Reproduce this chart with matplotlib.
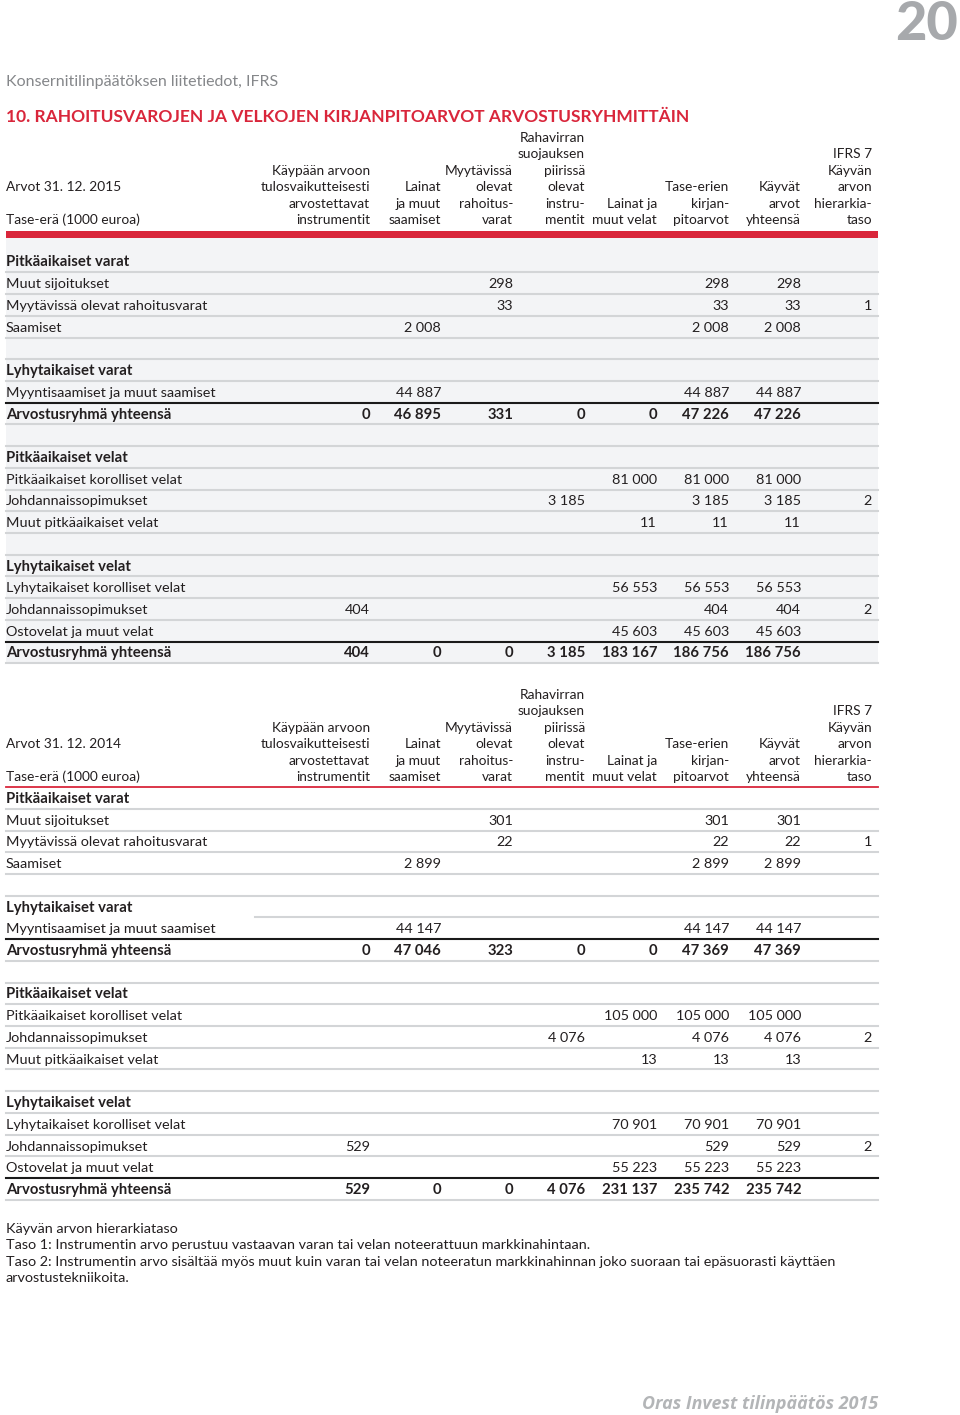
import matplotlib
matplotlib.use("Agg")
import matplotlib.pyplot as plt

W, H = 960, 1415

# column headers (one list per column, lines top to bottom)
col_headers = [
    ["Käypään arvoon", "tulosvaikutteisesti", "arvostettavat", "instrumentit"],
    ["Lainat", "ja muut", "saamiset"],
    ["Myytävissä", "olevat", "rahoitus-", "varat"],
    ["Rahavirran", "suojauksen", "piirissä", "olevat", "instru-", "mentit"],
    ["Lainat ja", "muut velat"],
    ["Tase-erien", "kirjan-", "pitoarvot"],
    ["Käyvät", "arvot", "yhteensä"],
    ["IFRS 7", "Käyvän", "arvon", "hierarkia-", "taso"],
]

row_labels = [
    "Pitkäaikaiset varat", "Muut sijoitukset", "Myytävissä olevat rahoitusvarat",
    "Saamiset", "", "Lyhytaikaiset varat", "Myyntisaamiset ja muut saamiset",
    "Arvostusryhmä yhteensä", "", "Pitkäaikaiset velat",
    "Pitkäaikaiset korolliset velat", "Johdannaissopimukset",
    "Muut pitkäaikaiset velat", "", "Lyhytaikaiset velat",
    "Lyhytaikaiset korolliset velat", "Johdannaissopimukset",
    "Ostovelat ja muut velat", "Arvostusryhmä yhteensä",
]
row_kinds = ["head", "item", "item", "item", "blank", "head", "item", "total",
             "blank", "head", "item", "item", "item", "blank", "head",
             "item", "item", "item", "total"]

E = ""
values_2015 = [
    [E] * 8,
    [E, E, "298", E, E, "298", "298", E],
    [E, E, "33", E, E, "33", "33", "1"],
    [E, "2 008", E, E, E, "2 008", "2 008", E],
    [E] * 8,
    [E] * 8,
    [E, "44 887", E, E, E, "44 887", "44 887", E],
    ["0", "46 895", "331", "0", "0", "47 226", "47 226", E],
    [E] * 8,
    [E] * 8,
    [E, E, E, E, "81 000", "81 000", "81 000", E],
    [E, E, E, "3 185", E, "3 185", "3 185", "2"],
    [E, E, E, E, "11", "11", "11", E],
    [E] * 8,
    [E] * 8,
    [E, E, E, E, "56 553", "56 553", "56 553", E],
    ["404", E, E, E, E, "404", "404", "2"],
    [E, E, E, E, "45 603", "45 603", "45 603", E],
    ["404", "0", "0", "3 185", "183 167", "186 756", "186 756", E],
]
values_2014 = [
    [E] * 8,
    [E, E, "301", E, E, "301", "301", E],
    [E, E, "22", E, E, "22", "22", "1"],
    [E, "2 899", E, E, E, "2 899", "2 899", E],
    [E] * 8,
    [E] * 8,
    [E, "44 147", E, E, E, "44 147", "44 147", E],
    ["0", "47 046", "323", "0", "0", "47 369", "47 369", E],
    [E] * 8,
    [E] * 8,
    [E, E, E, E, "105 000", "105 000", "105 000", E],
    [E, E, E, "4 076", E, "4 076", "4 076", "2"],
    [E, E, E, E, "13", "13", "13", E],
    [E] * 8,
    [E] * 8,
    [E, E, E, E, "70 901", "70 901", "70 901", E],
    ["529", E, E, E, E, "529", "529", "2"],
    [E, E, E, E, "55 223", "55 223", "55 223", E],
    ["529", "0", "0", "4 076", "231 137", "235 742", "235 742", E],
]

notes = [
    "Käyvän arvon hierarkiataso",
    "Taso 1: Instrumentin arvo perustuu vastaavan varan tai velan noteerattuun markkinahintaan.",
    "Taso 2: Instrumentin arvo sisältää myös muut kuin varan tai velan noteeratun markkinahinnan joko suoraan tai epäsuorasti käyttäen",
    "arvostustekniikoita.",
]

FONT = ["Lato", "DejaVu Sans"]
RED = "#d9263b"
TXT = "#231f20"
GRID = "#d3d5d7"
FS = 10.4
FS_HDR = 9.9
FS_BOLD = 10.7

col_right = [370, 441, 513, 585, 657, 729, 801, 872]
x0, x1 = 6, 878
pitch = 21.72
hdr_step = 16.4

fig = plt.figure(figsize=(W / 100, H / 100), dpi=100)
ax = fig.add_axes([0, 0, 1, 1])
ax.set_xlim(0, W)
ax.set_ylim(H, 0)
ax.axis("off")


def draw_table(year, values, hdr_base, first_row, heavy_rule, shaded):
    # header block
    for xr, lines in zip(col_right, col_headers):
        for k, s in enumerate(reversed(lines)):
            ax.text(xr, hdr_base - k * hdr_step + 5, s, ha="right", va="baseline",
                    fontsize=FS_HDR, family=FONT, color=TXT)
    ax.text(x0, hdr_base - 2 * hdr_step + 5, "Arvot 31. 12. " + year,
            ha="left", va="baseline", fontsize=FS_HDR, family=FONT, color=TXT)
    ax.text(x0, hdr_base + 5, "Tase-erä (1000 euroa)",
            ha="left", va="baseline", fontsize=FS_HDR, family=FONT, color=TXT)

    top = first_row - pitch / 2
    last = first_row + (len(row_labels) - 1) * pitch
    if shaded:
        ax.fill_between([x0, x1], top - 13, last + pitch / 2 + 1,
                        color="#f3f4f6", lw=0, zorder=0)
    if heavy_rule:
        ax.fill_between([x0, x1], top - 20, top - 13, color=RED, lw=0)
    else:
        ax.plot([x0, x1], [top, top], color=RED, lw=1.3)

    for i, (lab, kind, vals) in enumerate(zip(row_labels, row_kinds, values)):
        yc = first_row + i * pitch
        bold = kind in ("head", "total")
        w = "bold" if bold else "normal"
        fs = FS_BOLD if bold else FS
        ax.text(x0, yc + 5, lab, ha="left", va="baseline", fontsize=fs,
                family=FONT, weight=w, color=TXT)
        for xr, v in zip(col_right, vals):
            if v:
                ax.text(xr, yc + 5, v, ha="right", va="baseline", fontsize=fs,
                        family=FONT, weight=w, color=TXT)
        yb = yc + pitch / 2
        nxt = row_kinds[i + 1] if i + 1 < len(row_kinds) else None
        if nxt == "total":
            ax.plot([x0, x1], [yb, yb], color="#1a1a1a", lw=1.5, zorder=3)
        else:
            # in the 2014 table the rule under "Lyhytaikaiset varat" is short
            start = 255 if (not shaded and kind == "head" and i > 0 and lab.endswith("varat")) else x0
            ax.plot([start, x1], [yb, yb], color=GRID, lw=1.5)


# page header
ax.text(958, 40, "20", ha="right", va="baseline", fontsize=39, family=FONT,
        weight="black", color="#a7a9ac")
ax.text(x0, 86, "Konsernitilinpäätöksen liitetiedot, IFRS", ha="left",
        va="baseline", fontsize=11.5, family=FONT, color="#85878a")
ax.text(x0, 122, "10. RAHOITUSVAROJEN JA VELKOJEN KIRJANPITOARVOT ARVOSTUSRYHMITTÄIN",
        ha="left", va="baseline", fontsize=12.5, family=FONT, weight="bold", color=RED)

draw_table("2015", values_2015, 219, 261.5, True, True)
draw_table("2014", values_2014, 776, 798, False, False)

for k, s in enumerate(notes):
    ax.text(x0, 1233 + k * 16.4, s, ha="left", va="baseline", fontsize=10.35,
            family=FONT, color=TXT)

ax.text(878, 1409, "Oras Invest tilinpäätös 2015", ha="right", va="baseline",
        fontsize=12.9, family=["Open Sans", "Lato"], weight="bold", style="italic",
        color="#b3b5b7")

fig.savefig("out.png", dpi=100, facecolor="white")
